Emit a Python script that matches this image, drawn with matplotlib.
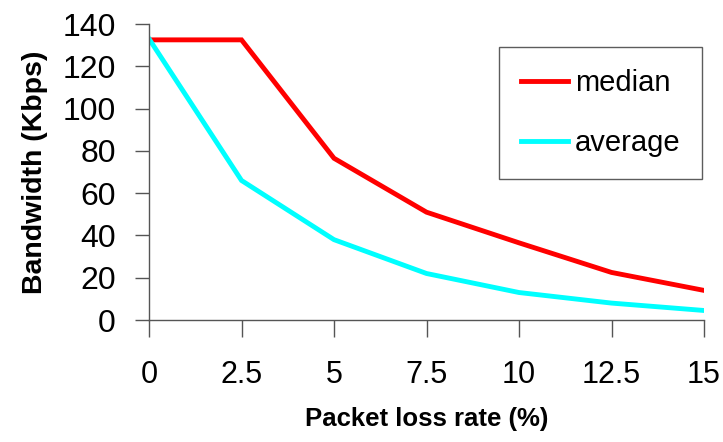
import matplotlib.pyplot as plt

loss_rate = [0, 2.5, 5, 7.5, 10, 12.5, 15]
median_bw = [132.5, 132.5, 76.5, 51, 36.5, 22.5, 14]
average_bw = [133, 66, 38, 22, 13, 8, 4.5]

x_ticks = [0, 2.5, 5, 7.5, 10, 12.5, 15]
x_tick_labels = ["0", "2.5", "5", "7.5", "10", "12.5", "15"]
y_ticks = [0, 20, 40, 60, 80, 100, 120, 140]

plt.rcParams["font.family"] = ["Liberation Sans", "DejaVu Sans"]

fig = plt.figure(figsize=(7.23, 4.42), dpi=100)
ax = fig.add_axes([149 / 723, 1 - 320 / 442, (704 - 149) / 723, (320 - 24) / 442])

ax.plot(loss_rate, median_bw, color="#ff0000", lw=3.5, label="median", solid_joinstyle="miter")
ax.plot(loss_rate, average_bw, color="#00ffff", lw=3.5, label="average", solid_joinstyle="miter")

ax.set_xlim(0, 15)
ax.set_ylim(0, 140)
ax.set_xticks(x_ticks)
ax.set_xticklabels(x_tick_labels)
ax.set_yticks(y_ticks)

for side in ["top", "right"]:
    ax.spines[side].set_visible(False)
for side in ["left", "bottom"]:
    ax.spines[side].set_color("#555555")
    ax.spines[side].set_linewidth(1.0)

ax.tick_params(axis="x", direction="out", length=12, width=1, color="#555555",
               labelsize=22, pad=17)
ax.tick_params(axis="y", direction="out", length=10, width=1, color="#555555",
               labelsize=23, pad=14)

ax.set_xlabel("Packet loss rate (%)", fontsize=18.5, fontweight="bold", labelpad=12)
ax.set_ylabel("Bandwidth (Kbps)", fontsize=20.5, fontweight="bold", labelpad=10)

leg = ax.legend(loc="upper left", bbox_to_anchor=(499 / 723, 1 - 47 / 442),
                bbox_transform=fig.transFigure, fontsize=21, frameon=True,
                fancybox=False, shadow=False, handlelength=1.6, handletextpad=0.25,
                labelspacing=1.1, borderpad=0.75, borderaxespad=0)
leg.get_frame().set_edgecolor("#333333")
leg.get_frame().set_linewidth(1.0)

fig.savefig("out.png", dpi=100)
